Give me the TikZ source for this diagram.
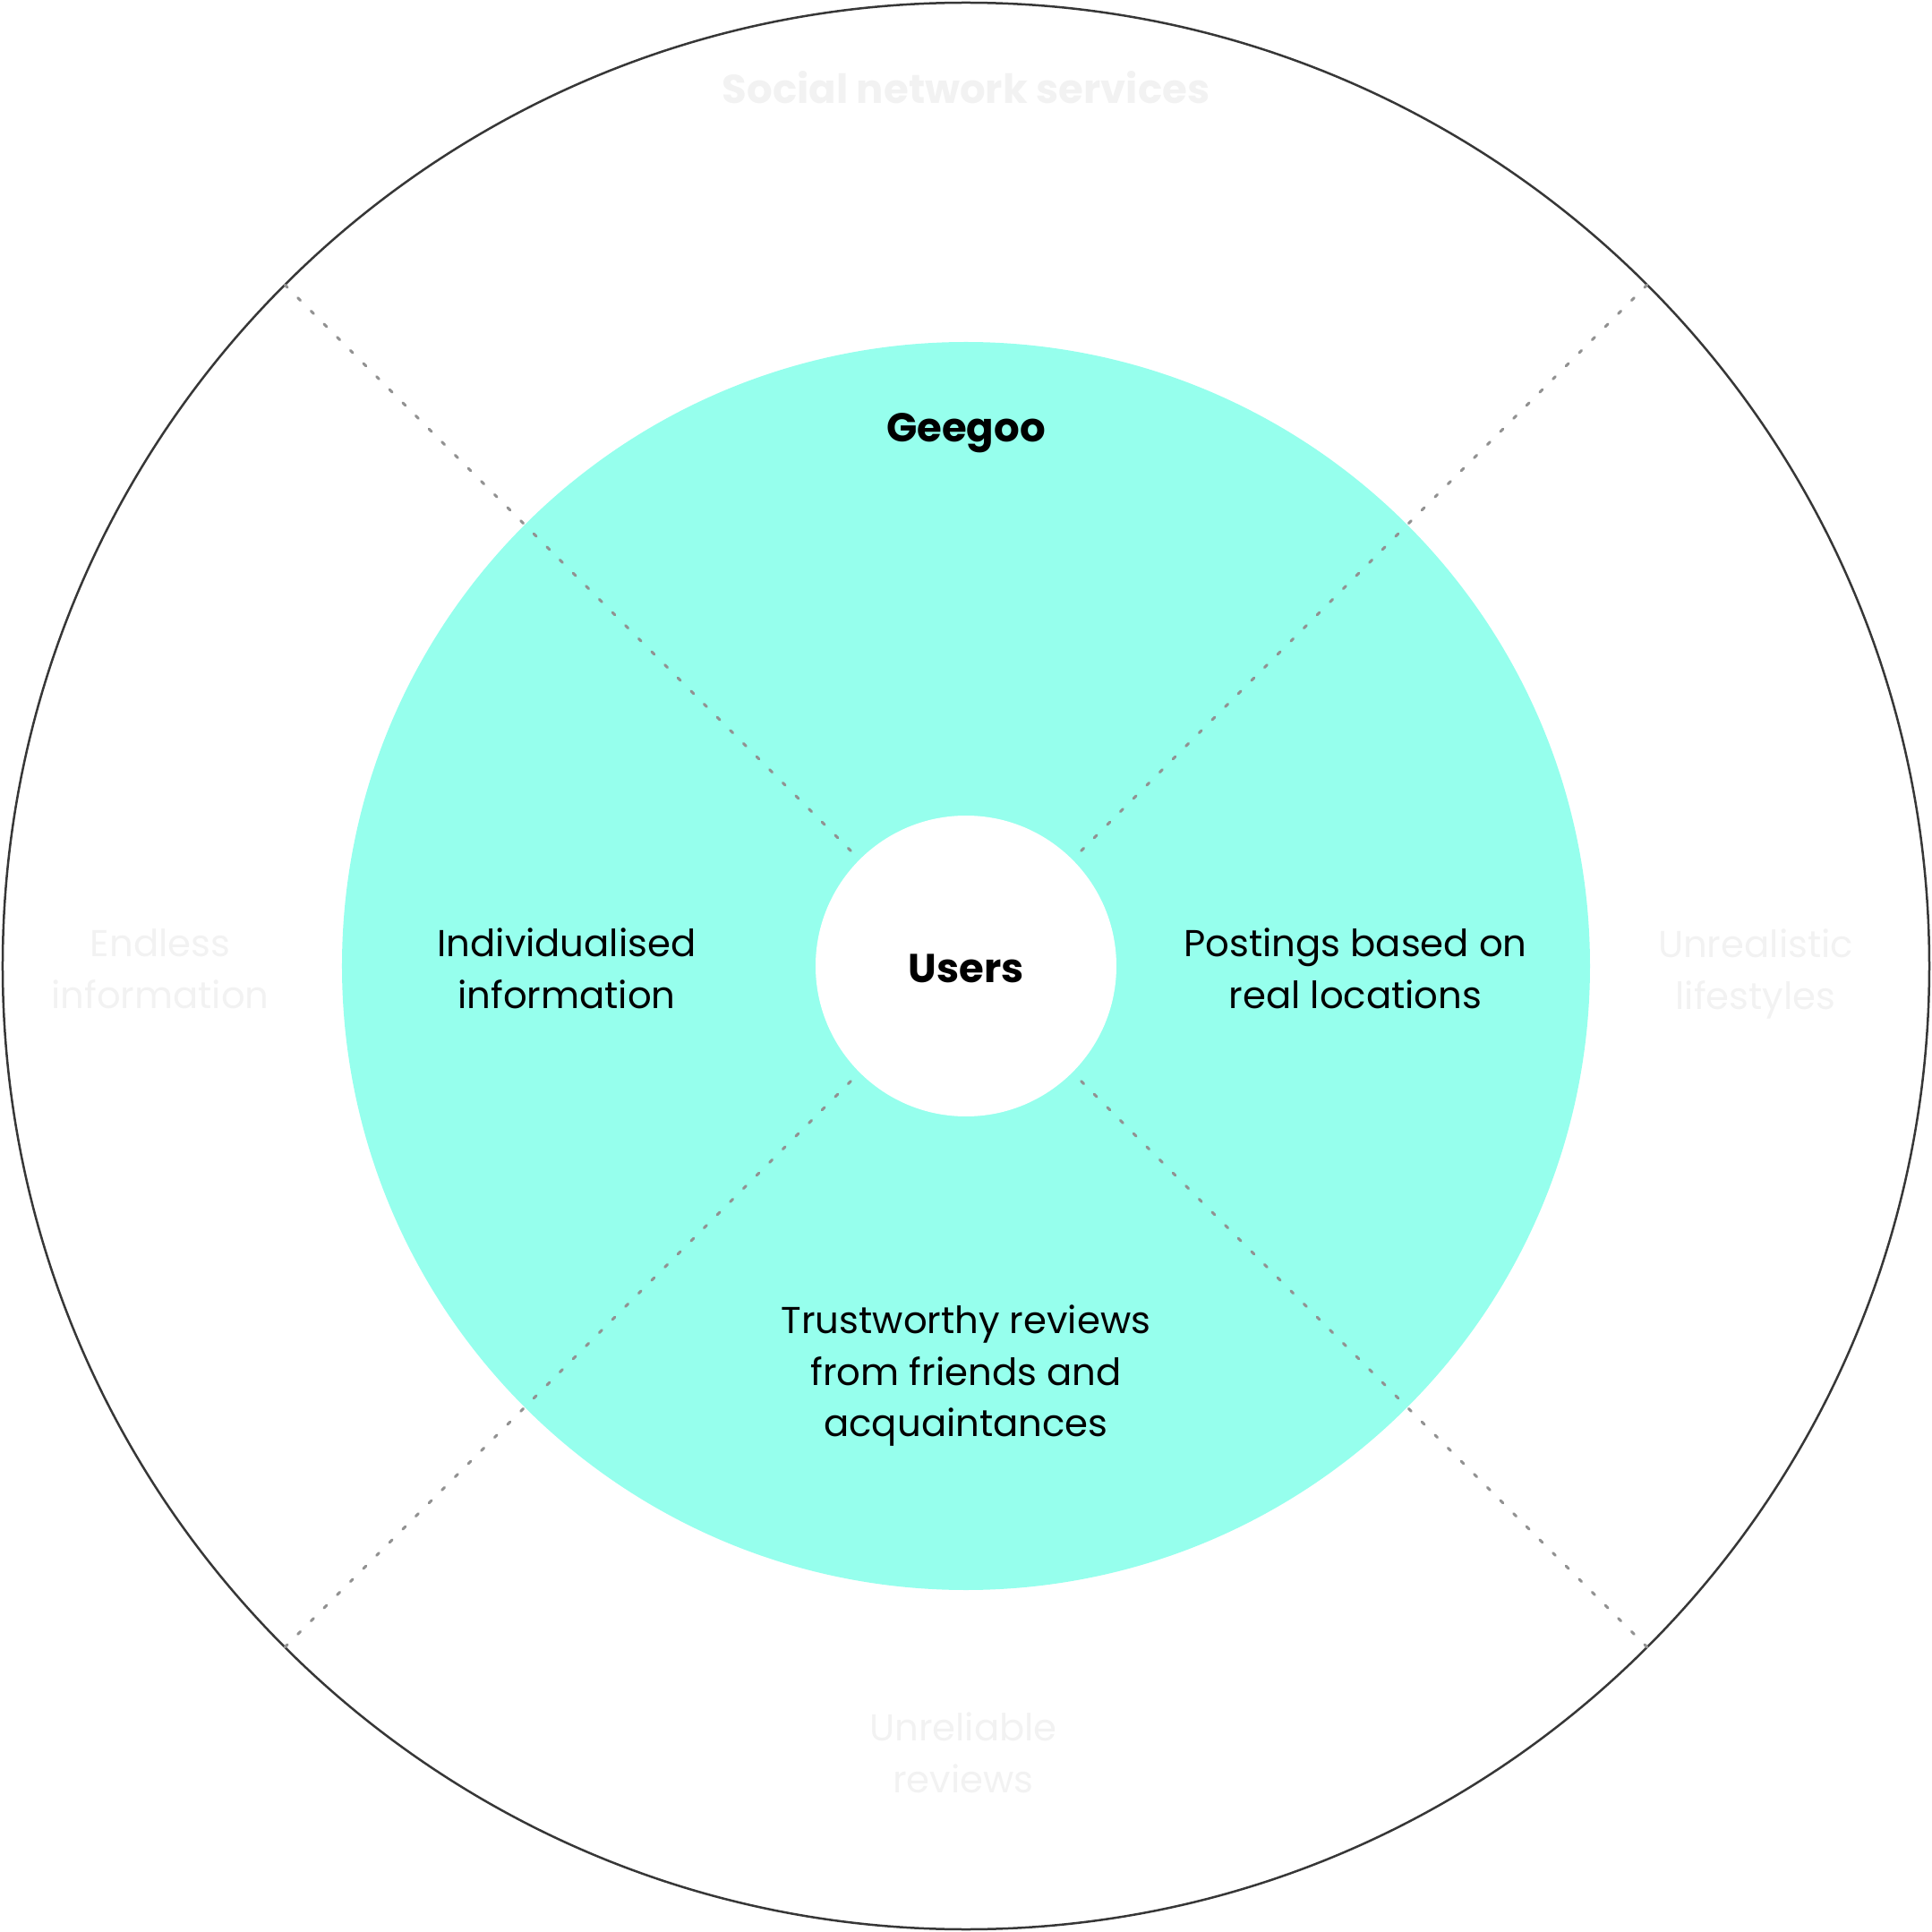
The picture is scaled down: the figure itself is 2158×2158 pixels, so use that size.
\documentclass[tikz,border=0pt]{standalone}
\usepackage{fontspec}
\setmainfont{Poppins}
\definecolor{teal}{RGB}{150,255,237}
\definecolor{ring}{RGB}{55,55,55}
\definecolor{dotgray}{RGB}{145,145,145}
\definecolor{faint}{RGB}{242,242,242}
\begin{document}
\begin{tikzpicture}[x=1pt,y=1pt,
  lbl/.style={align=center,inner sep=0pt,font=\fontsize{41.8}{57.5}\selectfont,text=black},
  faintlbl/.style={lbl,text=faint},
  boldlbl/.style={lbl,font=\fontsize{45}{57.5}\selectfont\bfseries},
  divider/.style={draw=dotgray,line width=3pt,line cap=round,dash pattern=on 4pt off 16.7pt}]
\useasboundingbox (-1079,-1079) rectangle (1079,1079);
\node[circle,draw=ring,line width=2.5pt,minimum size=2152pt,inner sep=0pt,outer sep=0pt] (outer) at (0,0) {};
\node[circle,fill=teal,minimum size=1394pt,inner sep=0pt,outer sep=0pt] (mid) at (0,0) {};
\node[circle,fill=white,minimum size=336pt,inner sep=0pt,outer sep=0pt] (users) at (0,0) {};
\foreach \a in {45,135,225,315}{
  \draw[divider] (outer.\a) -- (users.\a);
}
\node[boldlbl] (userslbl) at (0,-3) {Users};
\node[boldlbl,text=faint] (sns) at (0,981) {Social network services};
\node[boldlbl] (geegoo) at (0,595) {Geegoo};
\node[lbl] (indiv) at (-446,-3) {Individualised\\information};
\node[lbl] (post) at (435,-3) {Postings based on\\real locations};
\node[lbl] (trust) at (0,-458) {Trustworthy reviews\\from friends and\\acquaintances};
\node[faintlbl] (endless) at (-900,-3) {Endless\\information};
\node[faintlbl] (unreal) at (882,-9) {Unrealistic\\lifestyles};
\node[faintlbl] (unrel) at (-3,-879) {Unreliable\\reviews};
\end{tikzpicture}
\end{document}
